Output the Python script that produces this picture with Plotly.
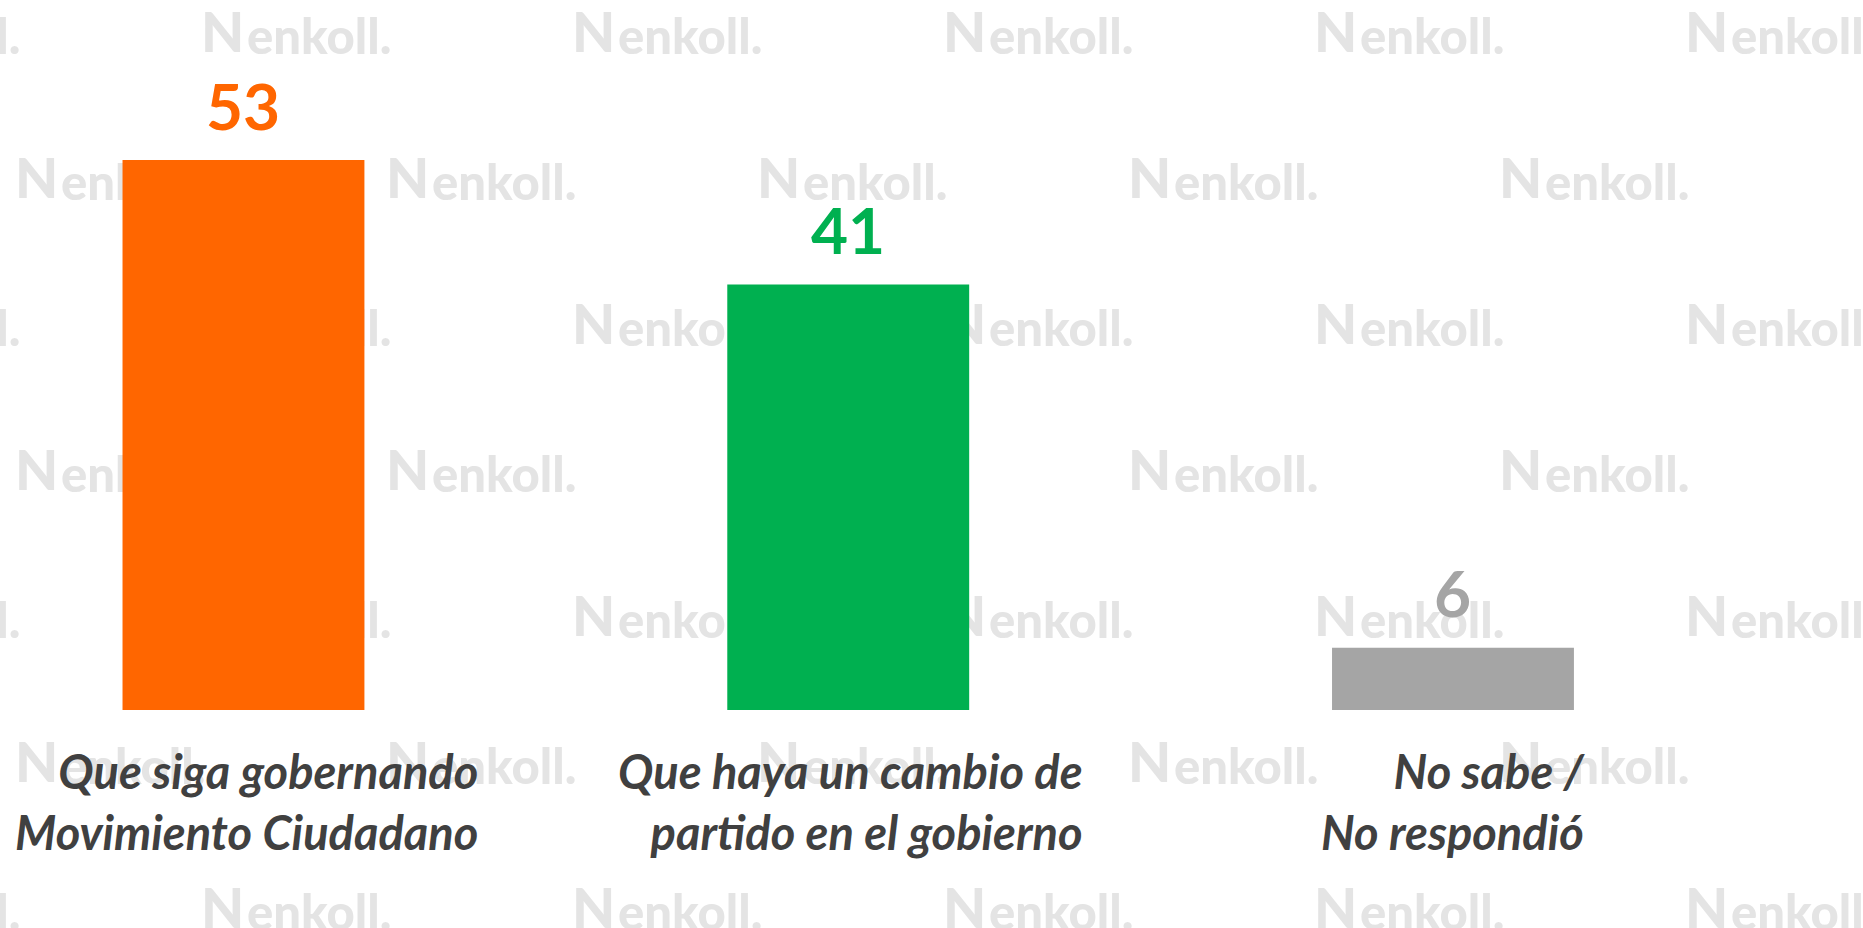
import plotly.graph_objects as go

# ---- data ----
categories = ["Que siga gobernando<br>Movimiento Ciudadano",
              "Que haya un cambio de<br>partido en el gobierno",
              "No sabe /<br>No respondió"]
values = [53, 41, 6]
bar_colors = ["#FF6600", "#00B050", "#A5A5A5"]

W, H = 1863, 928

fig = go.Figure()

# ---- watermark layer (base subplot, drawn beneath the bars) ----
wm_x, wm_y = [], []
for k in range(7):
    y = 38 + 146 * k
    if k % 2 == 0:
        xs = [-170 + 371 * j for j in range(6)]
    else:
        xs = [15 + 371 * j for j in range(5)]
    for x in xs:
        wm_x.append(x)
        wm_y.append(y)

fig.add_trace(go.Scatter(
    x=wm_x, y=wm_y, mode="text", text=["N"] * len(wm_x),
    textposition="middle right",
    textfont=dict(family="Lato", size=56, color="#e4e4e4", weight=900),
    hoverinfo="skip", showlegend=False, xaxis="x", yaxis="y"))
fig.add_trace(go.Scatter(
    x=[v + 46 for v in wm_x], y=[v + 4 for v in wm_y], mode="text",
    text=["enkoll."] * len(wm_x), textposition="middle right",
    textfont=dict(family="Lato", size=49, color="#e4e4e4", weight=900),
    hoverinfo="skip", showlegend=False, xaxis="x", yaxis="y"))

# ---- bars (overlay subplot, on top of the watermark) ----
fig.add_trace(go.Bar(
    x=categories, y=values, marker=dict(color=bar_colors, line=dict(width=0)),
    width=0.4, hoverinfo="skip", showlegend=False, xaxis="x2", yaxis="y2"))

annotations = []
for c, v, col in zip(categories, values, bar_colors):
    annotations.append(dict(
        x=c, y=v, xref="x2", yref="y2", text=str(v), showarrow=False,
        yanchor="middle", yshift=55,
        font=dict(family="Lato", size=64, color=col, weight="bold")))

label_shifts = [237, 237, 135]
for c, s in zip(categories, label_shifts):
    annotations.append(dict(
        x=c, y=0, xref="x2", yref="y2", text=c, showarrow=False,
        xanchor="right", yanchor="middle", xshift=s, yshift=-92, align="right",
        font=dict(family="Lato", size=47, color="#404040", weight="bold",
                  style="italic")))

fig.update_layout(
    width=W, height=H,
    margin=dict(l=0, r=0, t=0, b=0),
    paper_bgcolor="white", plot_bgcolor="rgba(0,0,0,0)",
    xaxis=dict(range=[0, W], visible=False, fixedrange=True),
    yaxis=dict(range=[H, 0], visible=False, fixedrange=True),
    xaxis2=dict(type="category", overlaying="x", anchor="y2",
                range=[-0.4026, 2.678], visible=False),
    yaxis2=dict(overlaying="y", anchor="x2", range=[-21.01, 68.42],
                visible=False),
    annotations=annotations,
    showlegend=False,
)

fig.write_html("out.html", config={"displayModeBar": False},
               post_script="document.body.style.margin='0';")
